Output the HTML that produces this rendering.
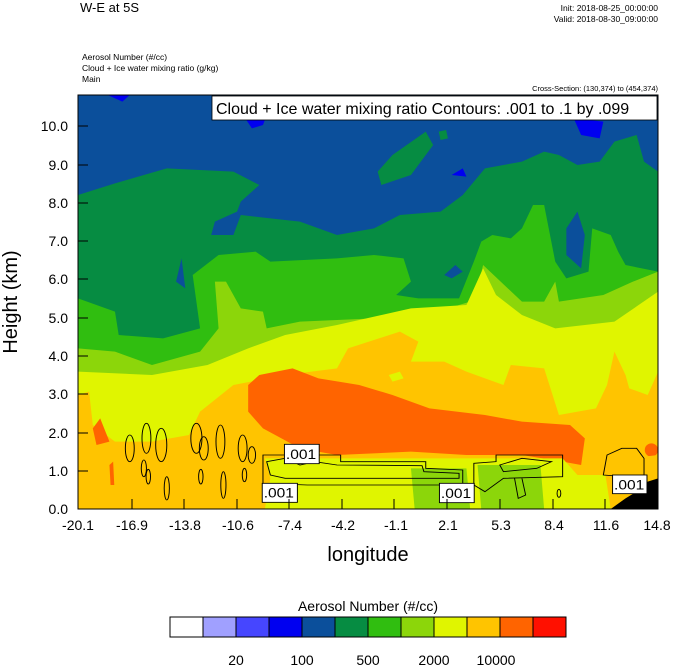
<!DOCTYPE html>
<html><head><style>
body{margin:0;background:#fff;}
svg text{font-family:"Liberation Sans",sans-serif;}
</style></head><body>
<svg width="674" height="667" xmlns="http://www.w3.org/2000/svg">
<text x="80" y="12" font-size="13">W-E at 5S</text>
<text x="658" y="11" font-size="8.5" text-anchor="end">Init: 2018-08-25_00:00:00</text>
<text x="658" y="22" font-size="8.5" text-anchor="end">Valid: 2018-08-30_09:00:00</text>
<text x="82" y="60" font-size="8.5">Aerosol Number   (#/cc)</text>
<text x="82" y="71" font-size="8.5">Cloud + Ice water mixing ratio   (g/kg)</text>
<text x="82" y="82" font-size="8.5">Main</text>
<text x="658" y="91" font-size="7.5" text-anchor="end">Cross-Section: (130,374) to (454,374)</text>
<defs><clipPath id="c"><rect x="0" y="0" width="1568" height="1242"/></clipPath></defs>
<g transform="translate(78,95) scale(0.36995,0.33333)" clip-path="url(#c)">
<rect x="0" y="0" width="1568" height="1242" fill="#0b4f9b"/>
<polygon fill="#0000f0" points="80,0 120,20 140,0"/>
<polygon fill="#0000f0" points="440,50 470,100 500,90 510,60"/>
<polygon fill="#0000f0" points="1340,70 1360,120 1410,130 1420,80"/>
<polygon fill="#0000f0" points="1010,240 1040,220 1050,245"/>
<polygon fill="#068c42" points="0,300 100,265 240,220 420,230 490,270 440,320 430,350 370,380 360,420 420,420 440,360 520,370 600,380 700,420 800,400 870,360 980,350 1040,300 1100,220 1200,200 1260,170 1300,180 1350,210 1410,200 1450,140 1510,120 1530,200 1568,230 1568,1242 0,1242"/>
<polygon fill="#068c42" points="810,230 850,180 940,110 960,150 900,240 820,270"/>
<polygon fill="#068c42" points="975,110 995,105 1000,130 980,135"/>
<polygon fill="#0b4f9b" points="1320,400 1350,350 1370,420 1360,520 1320,480"/>
<polygon fill="#0b4f9b" points="265,560 280,490 290,580"/>
<polygon fill="#30be10" points="0,610 100,650 110,720 230,730 330,700 310,540 380,480 480,470 520,500 700,490 800,480 880,490 900,560 860,600 920,610 1030,610 1070,500 1090,440 1120,420 1170,430 1200,400 1230,330 1260,330 1290,500 1320,550 1380,530 1390,400 1440,420 1460,470 1480,510 1568,530 1568,1242 0,1242"/>
<polygon fill="#0b4f9b" points="990,540 1020,510 1040,530 1010,550"/>
<polygon fill="#8cd60a" points="0,760 100,770 200,810 330,770 380,700 370,560 400,560 440,640 500,650 510,700 600,680 800,670 1000,640 1060,620 1080,580 1095,510 1200,620 1260,620 1290,560 1300,620 1420,600 1500,560 1568,530 1568,1242 0,1242"/>
<polygon fill="#e0f500" points="0,830 200,840 350,810 460,760 560,720 700,690 900,640 1050,630 1095,520 1130,600 1200,660 1290,700 1450,680 1568,590 1568,1242 0,1242"/>
<polygon fill="#ffc400" points="0,900 30,890 40,990 100,1040 200,1040 300,1020 330,950 420,870 560,840 700,820 730,760 870,710 920,740 900,800 990,800 1050,830 1150,870 1170,810 1260,820 1300,960 1400,940 1430,870 1450,770 1480,840 1490,880 1540,900 1568,830 1568,1242 0,1242"/>
<polygon fill="#e0f500" points="840,840 870,830 880,850 850,860"/>
<polygon fill="#ff6400" points="460,870 490,840 580,820 650,850 760,870 850,900 950,940 1100,960 1200,980 1330,990 1370,1030 1360,1110 1310,1100 1200,1080 1050,1080 900,1070 700,1080 600,1060 500,1000 460,950"/>
<polygon fill="#ff6400" points="40,1000 60,970 85,1040 50,1050"/>
<ellipse cx="1550" cy="1065" rx="18" ry="20" fill="#ff6400"/>
<polygon fill="#ff6400" points="85,1110 95,1100 98,1170 88,1170"/>
<polygon fill="#e0f500" points="505,1090 1310,1090 1350,1140 1450,1140 1460,1242 505,1242 520,1150"/>
<polygon fill="#8cd60a" points="900,1120 1050,1120 1060,1242 910,1242"/>
<polygon fill="#8cd60a" points="1080,1110 1250,1110 1260,1242 1090,1242"/>
<polygon fill="#ffc400" points="1420,1100 1568,1080 1568,1242 1440,1242"/>
<polygon fill="#000" points="1440,1242 1480,1210 1510,1190 1540,1160 1568,1150 1568,1242"/>
<g fill="none" stroke="#000" stroke-width="2.6">
<path d="M500,1080 L710,1080 710,1100 940,1100 940,1120 1040,1125 1040,1170 860,1170 620,1170 500,1165 Z"/>
<path d="M510,1100 560,1090 600,1110 640,1100 700,1110 930,1112 935,1130 1030,1135 1030,1150 900,1150 640,1150 560,1150 520,1140 Z"/>
<path d="M1070,1105 1130,1100 1130,1080 1310,1080 1310,1145 1150,1150 1100,1190 1070,1170 Z"/>
<path d="M1140,1110 1200,1090 1280,1100 1240,1120 1150,1130 Z"/>
<path d="M1180,1150 1190,1210 1210,1200 1200,1150"/>
<path d="M1420,1140 1430,1080 1470,1060 1510,1060 1530,1090 1530,1140 1480,1145 Z"/>
<ellipse cx="140" cy="1060" rx="12" ry="40"/><ellipse cx="185" cy="1030" rx="12" ry="45"/><ellipse cx="225" cy="1050" rx="15" ry="50"/>
<ellipse cx="320" cy="1030" rx="15" ry="45"/><ellipse cx="340" cy="1060" rx="12" ry="35"/><ellipse cx="385" cy="1040" rx="12" ry="50"/>
<ellipse cx="445" cy="1060" rx="12" ry="40"/><ellipse cx="470" cy="1080" rx="10" ry="25"/>
<ellipse cx="178" cy="1120" rx="7" ry="25"/><ellipse cx="190" cy="1145" rx="6" ry="22"/><ellipse cx="240" cy="1180" rx="7" ry="35"/>
<ellipse cx="332" cy="1145" rx="6" ry="22"/><ellipse cx="393" cy="1170" rx="7" ry="40"/><ellipse cx="450" cy="1140" rx="6" ry="20"/>
<ellipse cx="1300" cy="1195" rx="5" ry="12"/>
</g>
<g font-size="42" fill="#000">
<rect x="558" y="1048" width="94" height="58" fill="#fff" stroke="#000" stroke-width="2.6"/><text x="562" y="1092">.001</text>
<rect x="498" y="1165" width="95" height="57" fill="#fff" stroke="#000" stroke-width="2.6"/><text x="502" y="1208">.001</text>
<rect x="977" y="1165" width="94" height="58" fill="#fff" stroke="#000" stroke-width="2.6"/><text x="981" y="1209">.001</text>
<rect x="1445" y="1140" width="93" height="56" fill="#fff" stroke="#000" stroke-width="2.6"/><text x="1449" y="1183">.001</text>
</g>
</g>
<rect x="78" y="95" width="580" height="414" fill="none" stroke="#000" stroke-width="1"/>
<rect x="212" y="96" width="445" height="24" fill="#fff" stroke="#000" stroke-width="0.8"/>
<text x="216" y="114" font-size="16">Cloud + Ice water mixing ratio Contours: .001 to .1 by .099</text>
<g stroke="#000" stroke-width="1">
<line x1="78" y1="509" x2="88" y2="509"/><line x1="78" y1="471" x2="88" y2="471"/><line x1="78" y1="433" x2="88" y2="433"/>
<line x1="78" y1="394" x2="88" y2="394"/><line x1="78" y1="356" x2="88" y2="356"/><line x1="78" y1="318" x2="88" y2="318"/>
<line x1="78" y1="279" x2="88" y2="279"/><line x1="78" y1="241" x2="88" y2="241"/><line x1="78" y1="203" x2="88" y2="203"/>
<line x1="78" y1="165" x2="88" y2="165"/><line x1="78" y1="126" x2="88" y2="126"/>
<line x1="132" y1="509" x2="132" y2="499"/><line x1="184" y1="509" x2="184" y2="499"/><line x1="237" y1="509" x2="237" y2="499"/>
<line x1="289" y1="509" x2="289" y2="499"/><line x1="342" y1="509" x2="342" y2="499"/><line x1="394" y1="509" x2="394" y2="499"/>
<line x1="447" y1="509" x2="447" y2="499"/><line x1="500" y1="509" x2="500" y2="499"/><line x1="553" y1="509" x2="553" y2="499"/>
<line x1="605" y1="509" x2="605" y2="499"/>
</g>
<g font-size="14" text-anchor="end">
<text x="68" y="514">0.0</text><text x="68" y="476">1.0</text><text x="68" y="438">2.0</text><text x="68" y="399">3.0</text>
<text x="68" y="361">4.0</text><text x="68" y="323">5.0</text><text x="68" y="284">6.0</text><text x="68" y="246">7.0</text>
<text x="68" y="208">8.0</text><text x="68" y="170">9.0</text><text x="68" y="131">10.0</text>
</g>
<g font-size="14" text-anchor="middle">
<text x="78" y="530">-20.1</text><text x="132" y="530">-16.9</text><text x="185" y="530">-13.8</text><text x="238" y="530">-10.6</text>
<text x="290" y="530">-7.4</text><text x="343" y="530">-4.2</text><text x="396" y="530">-1.1</text><text x="448" y="530">2.1</text>
<text x="501" y="530">5.3</text><text x="554" y="530">8.4</text><text x="606" y="530">11.6</text><text x="657" y="530">14.8</text>
</g>
<text x="368" y="561" font-size="20" text-anchor="middle">longitude</text>
<text transform="translate(17,302) rotate(-90)" font-size="20" text-anchor="middle">Height (km)</text>
<text x="368" y="611" font-size="14" text-anchor="middle">Aerosol Number  (#/cc)</text>
<g stroke="#000" stroke-width="1">
<rect x="170" y="617" width="33" height="20" fill="#fff"/><rect x="203" y="617" width="33" height="20" fill="#a0a0ff"/>
<rect x="236" y="617" width="33" height="20" fill="#4646ff"/><rect x="269" y="617" width="33" height="20" fill="#0000f0"/>
<rect x="302" y="617" width="33" height="20" fill="#0b4f9b"/><rect x="335" y="617" width="33" height="20" fill="#068c42"/>
<rect x="368" y="617" width="33" height="20" fill="#30be10"/><rect x="401" y="617" width="33" height="20" fill="#8cd60a"/>
<rect x="434" y="617" width="33" height="20" fill="#e0f500"/><rect x="467" y="617" width="33" height="20" fill="#ffc400"/>
<rect x="500" y="617" width="33" height="20" fill="#ff6400"/><rect x="533" y="617" width="33" height="20" fill="#ff1000"/>
</g>
<g font-size="14" text-anchor="middle">
<text x="236" y="665">20</text><text x="302" y="665">100</text><text x="368" y="665">500</text>
<text x="434" y="665">2000</text><text x="496" y="665">10000</text>
</g>
</svg>
</body></html>
